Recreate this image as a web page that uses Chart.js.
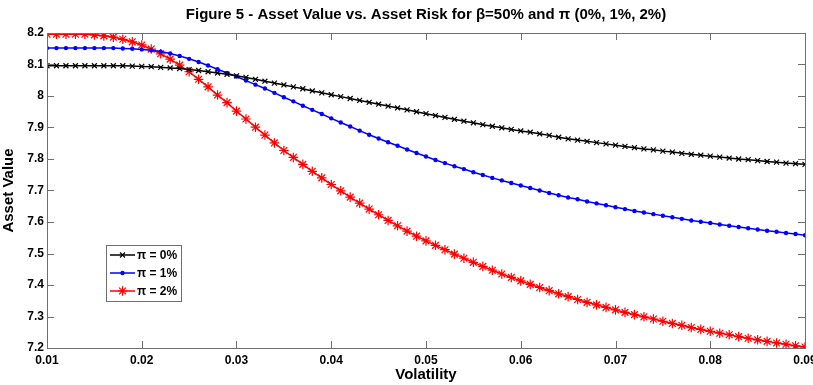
<!DOCTYPE html>
<html>
<head>
<meta charset="utf-8">
<script src="https://cdn.jsdelivr.net/npm/chart.js@4.4.1/dist/chart.umd.min.js"></script>
<style>
  html, body { margin: 0; padding: 0; background: #fff; }
  #wrap { width: 813px; height: 385px; }
</style>
</head>
<body>
<div id="wrap"><canvas id="chart"></canvas></div>
<script>
// --- data ---
const volatility = [
  0.010, 0.011, 0.012, 0.013, 0.014, 0.015, 0.016, 0.017, 0.018, 0.019,
  0.020, 0.021, 0.022, 0.023, 0.024, 0.025, 0.026, 0.027, 0.028, 0.029,
  0.030, 0.031, 0.032, 0.033, 0.034, 0.035, 0.036, 0.037, 0.038, 0.039,
  0.040, 0.041, 0.042, 0.043, 0.044, 0.045, 0.046, 0.047, 0.048, 0.049,
  0.050, 0.051, 0.052, 0.053, 0.054, 0.055, 0.056, 0.057, 0.058, 0.059,
  0.060, 0.061, 0.062, 0.063, 0.064, 0.065, 0.066, 0.067, 0.068, 0.069,
  0.070, 0.071, 0.072, 0.073, 0.074, 0.075, 0.076, 0.077, 0.078, 0.079,
  0.080, 0.081, 0.082, 0.083, 0.084, 0.085, 0.086, 0.087, 0.088, 0.089,
  0.090
];

const pi0 = [
  8.096, 8.096, 8.096, 8.096, 8.096, 8.096, 8.096, 8.096, 8.096, 8.095,
  8.094, 8.093, 8.091, 8.089, 8.087, 8.084, 8.081, 8.077, 8.073, 8.069,
  8.064, 8.059, 8.053, 8.047, 8.041, 8.035, 8.029, 8.023, 8.016, 8.010,
  8.004, 7.998, 7.992, 7.986, 7.980, 7.974, 7.968, 7.962, 7.956, 7.950,
  7.944, 7.938, 7.932, 7.926, 7.920, 7.915, 7.909, 7.904, 7.899, 7.894,
  7.889, 7.885, 7.880, 7.875, 7.869, 7.864, 7.860, 7.856, 7.852, 7.848,
  7.844, 7.840, 7.836, 7.832, 7.829, 7.825, 7.822, 7.818, 7.815, 7.812,
  7.809, 7.806, 7.803, 7.800, 7.798, 7.795, 7.792, 7.790, 7.787, 7.785,
  7.783
];

const pi1 = [
  8.152, 8.152, 8.152, 8.152, 8.152, 8.152, 8.152, 8.152, 8.151, 8.150,
  8.148, 8.145, 8.141, 8.135, 8.127, 8.118, 8.108, 8.097, 8.085, 8.073,
  8.062, 8.049, 8.036, 8.024, 8.010, 7.996, 7.983, 7.969, 7.956, 7.943,
  7.929, 7.916, 7.903, 7.890, 7.877, 7.865, 7.853, 7.842, 7.830, 7.819,
  7.808, 7.797, 7.787, 7.777, 7.768, 7.758, 7.749, 7.740, 7.732, 7.724,
  7.716, 7.708, 7.700, 7.692, 7.685, 7.678, 7.672, 7.665, 7.659, 7.653,
  7.647, 7.641, 7.635, 7.630, 7.625, 7.620, 7.615, 7.610, 7.605, 7.601,
  7.597, 7.592, 7.588, 7.584, 7.580, 7.576, 7.572, 7.569, 7.565, 7.562,
  7.558
];

const pi2 = [
  8.196, 8.196, 8.196, 8.196, 8.196, 8.194, 8.191, 8.187, 8.180, 8.172,
  8.162, 8.149, 8.134, 8.117, 8.098, 8.077, 8.053, 8.029, 8.003, 7.979,
  7.952, 7.927, 7.901, 7.876, 7.851, 7.827, 7.805, 7.783, 7.761, 7.740,
  7.719, 7.699, 7.679, 7.660, 7.641, 7.623, 7.605, 7.588, 7.571, 7.555,
  7.540, 7.526, 7.512, 7.498, 7.485, 7.472, 7.459, 7.447, 7.435, 7.424,
  7.413, 7.402, 7.392, 7.382, 7.372, 7.363, 7.354, 7.345, 7.337, 7.329,
  7.321, 7.313, 7.306, 7.299, 7.292, 7.285, 7.278, 7.272, 7.265, 7.259,
  7.253, 7.247, 7.242, 7.236, 7.231, 7.226, 7.221, 7.216, 7.212, 7.207,
  7.203
];

const seriesNames = ['\u03c0 = 0%', '\u03c0 = 1%', '\u03c0 = 2%'];
const xTicks = [0.01, 0.02, 0.03, 0.04, 0.05, 0.06, 0.07, 0.08, 0.09];
const xTickLabels = ['0.01', '0.02', '0.03', '0.04', '0.05', '0.06', '0.07', '0.08', '0.09'];
const yTicks = [7.2, 7.3, 7.4, 7.5, 7.6, 7.7, 7.8, 7.9, 8.0, 8.1, 8.2];
const yTickLabels = ['7.2', '7.3', '7.4', '7.5', '7.6', '7.7', '7.8', '7.9', '8', '8.1', '8.2'];

const titleText = 'Figure 5 - Asset Value vs. Asset Risk for \u03b2=50% and \u03c0 (0%, 1%, 2%)';
const FONT = '"Liberation Sans", Arial, sans-serif';

function toPoints(ys) {
  return volatility.map((x, i) => ({ x: x, y: ys[i] }));
}

const styles = [
  { color: '#000000', pointStyle: 'crossRot', radius: 3.5, lineWidth: 1.5 },
  { color: '#0000ff', pointStyle: 'circle', radius: 1.6, lineWidth: 1.5 },
  { color: '#ff0000', pointStyle: 'star', radius: 4.8, lineWidth: 1.5 }
];

const datasets = [pi0, pi1, pi2].map((ys, k) => ({
  label: seriesNames[k],
  data: toPoints(ys),
  borderColor: styles[k].color,
  backgroundColor: styles[k].color,
  borderWidth: styles[k].lineWidth,
  pointStyle: styles[k].pointStyle,
  pointRadius: styles[k].radius,
  pointBorderWidth: 1.2,
  pointBorderColor: styles[k].color,
  pointBackgroundColor: styles[k].color,
  tension: 0,
  fill: false
}));

// box, inward ticks on all four sides, title and the legend box
const matlabFrame = {
  id: 'matlabFrame',
  afterDraw(chart) {
    const { ctx, chartArea: ca, scales } = chart;
    ctx.save();
    ctx.strokeStyle = '#6e6e6e';
    ctx.lineWidth = 1;
    ctx.strokeRect(Math.round(ca.left) + 0.5, Math.round(ca.top) + 0.5,
      Math.round(ca.right - ca.left), Math.round(ca.bottom - ca.top));
    const tl = 7;
    ctx.beginPath();
    xTicks.forEach(v => {
      const px = Math.round(scales.x.getPixelForValue(v)) + 0.5;
      ctx.moveTo(px, ca.bottom); ctx.lineTo(px, ca.bottom - tl);
      ctx.moveTo(px, ca.top); ctx.lineTo(px, ca.top + tl);
    });
    yTicks.forEach(v => {
      const py = Math.round(scales.y.getPixelForValue(v)) + 0.5;
      ctx.moveTo(ca.left, py); ctx.lineTo(ca.left + tl, py);
      ctx.moveTo(ca.right, py); ctx.lineTo(ca.right - tl, py);
    });
    ctx.stroke();

    // title
    ctx.fillStyle = '#000';
    ctx.font = 'bold 15px ' + FONT;
    ctx.textAlign = 'center';
    ctx.textBaseline = 'middle';
    ctx.fillText(titleText, (ca.left + ca.right) / 2, 15);

    // legend
    const lx = ca.left + 59, ly = ca.top + 212, lw = 75, lh = 56;
    ctx.fillStyle = '#fff';
    ctx.fillRect(lx, ly, lw, lh);
    ctx.strokeStyle = '#6e6e6e';
    ctx.strokeRect(lx + 0.5, ly + 0.5, lw, lh);
    ctx.font = 'bold 12px ' + FONT;
    ctx.textAlign = 'left';
    styles.forEach((s, k) => {
      const ry = ly + 10 + k * 18;
      ctx.strokeStyle = s.color;
      ctx.lineWidth = s.lineWidth;
      ctx.beginPath();
      ctx.moveTo(lx + 4, ry); ctx.lineTo(lx + 29, ry);
      ctx.stroke();
      ctx.fillStyle = s.color;
      ctx.lineWidth = 1.2;
      Chart.helpers.drawPoint(ctx, { pointStyle: s.pointStyle, radius: s.radius, rotation: 0, borderWidth: 1.2 }, lx + 16.5, ry);
      ctx.fillStyle = '#000';
      ctx.fillText(seriesNames[k], lx + 31, ry + 1);
    });
    ctx.restore();
  }
};

new Chart(document.getElementById('chart'), {
  type: 'line',
  data: { datasets },
  options: {
    responsive: true,
    maintainAspectRatio: false,
    animation: false,
    layout: { padding: { top: 33, right: 8, left: 0, bottom: 0 } },
    plugins: {
      legend: { display: false },
      title: { display: false },
      tooltip: { enabled: false }
    },
    scales: {
      x: {
        type: 'linear',
        min: 0.01,
        max: 0.09,
        afterBuildTicks: s => { s.ticks = xTicks.map(v => ({ value: v })); },
        afterFit: s => { s.height = 37; s.paddingLeft = 0; s.paddingRight = 0; },
        grid: { display: false, drawTicks: false, tickLength: 0 },
        border: { display: false },
        ticks: {
          color: '#000',
          padding: 5,
          maxRotation: 0,
          autoSkip: false,
          font: { family: FONT, size: 12, weight: 'bold' },
          callback: (v, i) => xTickLabels[i]
        },
        title: {
          display: true,
          text: 'Volatility',
          color: '#000',
          padding: { top: 0, bottom: 1 },
          font: { family: FONT, size: 15, weight: 'bold' }
        }
      },
      y: {
        min: 7.2,
        max: 8.2,
        afterBuildTicks: s => { s.ticks = yTicks.map(v => ({ value: v })); },
        afterFit: s => { s.width = 47; s.paddingTop = 0; s.paddingBottom = 0; },
        grid: { display: false, drawTicks: false, tickLength: 0 },
        border: { display: false },
        ticks: {
          color: '#000',
          padding: 3,
          autoSkip: false,
          font: { family: FONT, size: 12, weight: 'bold' },
          callback: (v, i) => yTickLabels[i]
        },
        title: {
          display: true,
          text: 'Asset Value',
          color: '#000',
          padding: { top: 0, bottom: 2 },
          font: { family: FONT, size: 15, weight: 'bold' }
        }
      }
    }
  },
  plugins: [matlabFrame]
});
</script>
</body>
</html>
